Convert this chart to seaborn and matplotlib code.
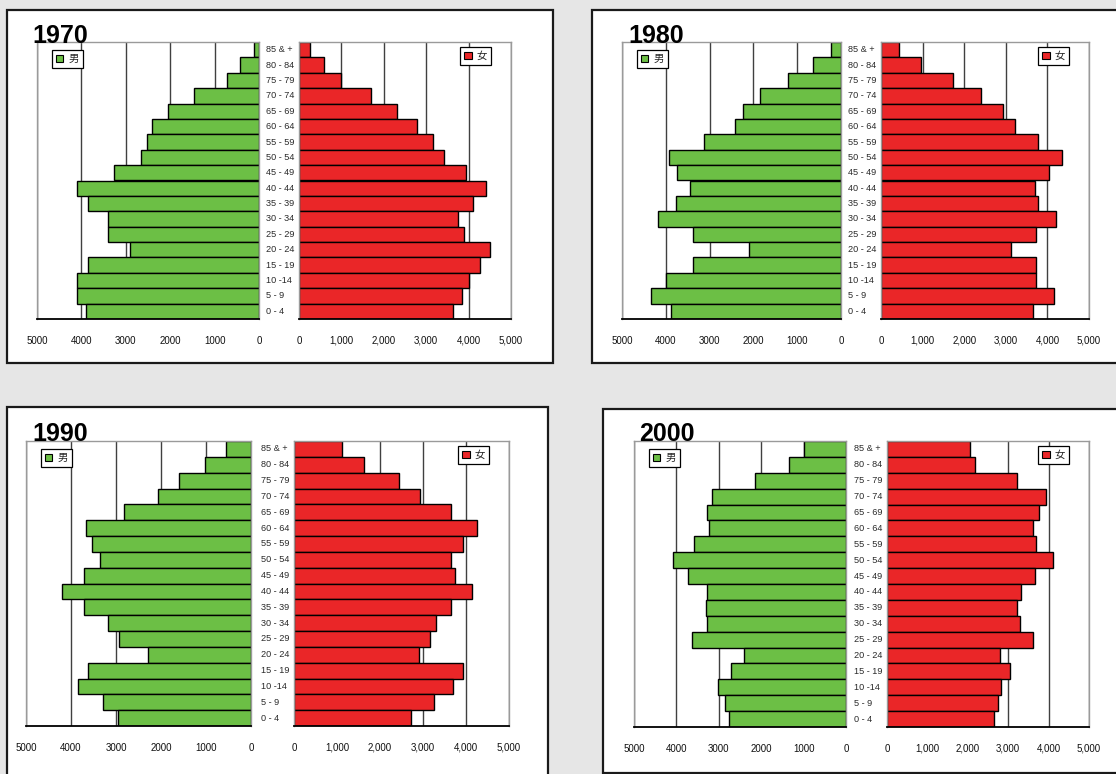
import matplotlib
matplotlib.use("Agg")
import matplotlib.pyplot as plt
from matplotlib.patches import Rectangle, Patch
from matplotlib.transforms import blended_transform_factory
from matplotlib.ticker import FuncFormatter
import seaborn as sns
import pandas as pd

# Age groups, top (oldest) to bottom (youngest)
ages = ["85 & +", "80 - 84", "75 - 79", "70 - 74", "65 - 69", "60 - 64",
        "55 - 59", "50 - 54", "45 - 49", "40 - 44", "35 - 39", "30 - 34",
        "25 - 29", "20 - 24", "15 - 19", "10 -14", "5 - 9", "0 - 4"]

years = ["1970", "1980", "1990", "2000"]

male_1970 = [120, 430, 730, 1470, 2040, 2400, 2520, 2650, 3260, 4100, 3850, 3400, 3400, 2900, 3850, 4100, 4100, 3900]
female_1970 = [270, 590, 990, 1690, 2310, 2790, 3160, 3430, 3930, 4400, 4100, 3750, 3880, 4500, 4260, 4020, 3840, 3630]

male_1980 = [220, 650, 1220, 1840, 2240, 2430, 3120, 3920, 3740, 3440, 3760, 4180, 3390, 2100, 3380, 3990, 4340, 3870]
female_1980 = [440, 950, 1720, 2400, 2930, 3230, 3780, 4340, 4050, 3690, 3770, 4200, 3720, 3130, 3720, 3720, 4170, 3660]

male_1990 = [560, 1020, 1600, 2060, 2830, 3670, 3530, 3360, 3700, 4210, 3700, 3170, 2940, 2290, 3620, 3850, 3280, 2960]
female_1990 = [1110, 1620, 2450, 2930, 3640, 4260, 3940, 3640, 3740, 4140, 3640, 3310, 3170, 2900, 3940, 3700, 3250, 2720]

male_2000 = [980, 1340, 2150, 3160, 3280, 3220, 3590, 4090, 3730, 3280, 3300, 3280, 3640, 2400, 2710, 3020, 2850, 2770]
female_2000 = [2060, 2190, 3210, 3930, 3770, 3610, 3690, 4110, 3660, 3310, 3210, 3280, 3610, 2800, 3040, 2830, 2740, 2650]

male_series = [male_1970, male_1980, male_1990, male_2000]
female_series = [female_1970, female_1980, female_1990, female_2000]

male_label = "男"
female_label = "女"
x_ticks = [0, 1000, 2000, 3000, 4000, 5000]

GREEN = "#6cbf45"
RED = "#ea2628"
BG = "#e6e6e6"

sns.set_style("white")
plt.rcParams["font.family"] = ["Liberation Sans", "DejaVu Sans"]

W, H = 1116, 774
fig = plt.figure(figsize=(W / 100, H / 100), dpi=100, facecolor=BG)


def fx(x):
    return x / W


def fy(y):
    return 1 - y / H


def add_px_axes(x0, y0, x1, y1):
    return fig.add_axes([fx(x0), fy(y1), (x1 - x0) / W, (y1 - y0) / H])


# Layout in pixels: panel box, male axes x-range, female axes x-range, axes y-range, title anchor
layout = [
    dict(box=(7, 10, 553, 363), male=(37, 259), female=(299, 511), yr=(42, 319), title=(32, 43)),
    dict(box=(592, 10, 1130, 363), male=(622, 841), female=(881, 1089), yr=(42, 319), title=(628, 43)),
    dict(box=(7, 407, 548, 790), male=(26, 251), female=(294, 509), yr=(441, 726), title=(32, 441)),
    dict(box=(603, 409, 1130, 773), male=(634, 846), female=(887, 1089), yr=(441, 727), title=(639, 441)),
]


def style_axes(ax, fmt):
    ax.set_xlim(0, 5000)
    ax.set_ylim(len(ages) - 0.5, -0.5)
    ax.set_yticks([])
    ax.set_ylabel("")
    ax.set_xlabel("")
    ax.set_xticks(x_ticks)
    ax.xaxis.set_major_formatter(FuncFormatter(fmt))
    ax.tick_params(axis="x", direction="in", length=3, width=1, color="black",
                   labelsize=7, pad=12, labelcolor="#111111")
    ax.grid(axis="x", color="#404040", linewidth=1.0)
    ax.grid(axis="y", visible=False)
    ax.set_axisbelow(True)
    for side in ("top", "left", "right"):
        ax.spines[side].set_color("#9a9a9a")
        ax.spines[side].set_linewidth(1.0)
    ax.spines["bottom"].set_color("black")
    ax.spines["bottom"].set_linewidth(1.3)
    ax.set_facecolor("white")


for year, males, females, lay in zip(years, male_series, female_series, layout):
    bx0, by0, bx1, by1 = lay["box"]
    fig.add_artist(Rectangle((fx(bx0), fy(by1)), (bx1 - bx0) / W, (by1 - by0) / H,
                             transform=fig.transFigure, facecolor="white",
                             edgecolor="#1a1a1a", linewidth=1.6, zorder=-1))

    y0, y1 = lay["yr"]
    ax_m = add_px_axes(lay["male"][0], y0, lay["male"][1], y1)
    ax_f = add_px_axes(lay["female"][0], y0, lay["female"][1], y1)

    df_m = pd.DataFrame({"age": ages, "pop": males})
    df_f = pd.DataFrame({"age": ages, "pop": females})

    sns.barplot(data=df_m, x="pop", y="age", order=ages, orient="h", color=GREEN,
                saturation=1, width=1.0, edgecolor="black", linewidth=1.0, ax=ax_m)
    sns.barplot(data=df_f, x="pop", y="age", order=ages, orient="h", color=RED,
                saturation=1, width=1.0, edgecolor="black", linewidth=1.0, ax=ax_f)

    style_axes(ax_m, lambda v, p: f"{int(v)}")
    style_axes(ax_f, lambda v, p: f"{int(v):,}")
    ax_m.invert_xaxis()

    # age-group labels in the gap between the two halves
    fw = lay["female"][1] - lay["female"][0]
    trans = blended_transform_factory(ax_f.transAxes, ax_f.transData)
    for i, a in enumerate(ages):
        ax_f.text(-33 / fw, i, a, transform=trans, ha="left", va="center",
                  fontsize=6.6, color="#2a2a2a", family=["Liberation Sans", "DejaVu Sans"])

    # legends
    leg_kw = dict(frameon=True, fancybox=False, edgecolor="black", framealpha=1,
                  handlelength=0.7, handleheight=0.7, handletextpad=0.45,
                  borderpad=0.4, borderaxespad=0,
                  prop={"family": ["Noto Sans CJK JP", "DejaVu Sans"], "size": 7.5})
    mw = lay["male"][1] - lay["male"][0]
    ah = y1 - y0
    leg_m = ax_m.legend(handles=[Patch(facecolor=GREEN, edgecolor="black", linewidth=0.8, label=male_label)],
                        loc="upper left", bbox_to_anchor=(15 / mw, 1 - 8 / ah), **leg_kw)
    leg_m.get_frame().set_linewidth(0.9)
    leg_f = ax_f.legend(handles=[Patch(facecolor=RED, edgecolor="black", linewidth=0.8, label=female_label)],
                        loc="upper right", bbox_to_anchor=(1 - 20 / fw, 1 - 5 / ah), **leg_kw)
    leg_f.get_frame().set_linewidth(0.9)

    # year heading
    tx, ty = lay["title"]
    fig.text(fx(tx), fy(ty), year, ha="left", va="baseline", fontsize=18,
             fontweight="bold", color="black", zorder=5)

fig.savefig("out.png", dpi=100, facecolor=BG)
